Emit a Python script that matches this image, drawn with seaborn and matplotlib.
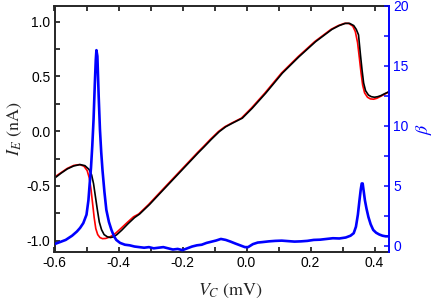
import numpy as np
import pandas as pd
import matplotlib
matplotlib.use("Agg")
import matplotlib.pyplot as plt
from matplotlib.ticker import MultipleLocator
import seaborn as sns

# Emitter current I_E (nA) vs collector bias V_C (mV): black trace
vc_black = [-0.600, -0.580, -0.560, -0.540, -0.520, -0.505, -0.492, -0.484, -0.478, -0.472,
            -0.466, -0.460, -0.453, -0.445, -0.435, -0.425, -0.415, -0.405, -0.390, -0.370,
            -0.350, -0.334, -0.303, -0.270, -0.240, -0.210, -0.180, -0.150, -0.132, -0.110,
            -0.085, -0.065, -0.044, -0.013, 0.018, 0.060, 0.112, 0.164, 0.216, 0.267,
            0.290, 0.309, 0.322, 0.335, 0.343, 0.350, 0.356, 0.361, 0.366, 0.372,
            0.381, 0.390, 0.400, 0.410, 0.420, 0.430, 0.445]
ie_black = [-0.43, -0.385, -0.345, -0.318, -0.305, -0.315, -0.35, -0.40, -0.48, -0.60,
            -0.72, -0.83, -0.90, -0.945, -0.965, -0.972, -0.965, -0.945, -0.905, -0.845,
            -0.79, -0.757, -0.67, -0.567, -0.474, -0.381, -0.288, -0.195, -0.142, -0.075,
            -0.004, 0.04, 0.073, 0.119, 0.21, 0.347, 0.53, 0.68, 0.818, 0.93,
            0.965, 0.985, 0.985, 0.965, 0.93, 0.88, 0.70, 0.56, 0.44, 0.37,
            0.33, 0.315, 0.31, 0.315, 0.325, 0.34, 0.36]

# red trace
vc_red = [-0.600, -0.580, -0.560, -0.540, -0.522, -0.508, -0.498, -0.491, -0.486, -0.481,
          -0.476, -0.471, -0.465, -0.458, -0.450, -0.440, -0.430, -0.420, -0.408, -0.393,
          -0.373, -0.353, -0.337, -0.306, -0.273, -0.243, -0.213, -0.183, -0.153, -0.135,
          -0.113, -0.088, -0.068, -0.047, -0.016, 0.015, 0.057, 0.109, 0.161, 0.213,
          0.264, 0.287, 0.306, 0.319, 0.332, 0.340, 0.347, 0.353, 0.358, 0.363,
          0.369, 0.378, 0.387, 0.397, 0.407, 0.417, 0.430, 0.445]
ie_red = [-0.42, -0.38, -0.34, -0.313, -0.305, -0.32, -0.36, -0.43, -0.53, -0.66,
          -0.79, -0.89, -0.945, -0.972, -0.982, -0.98, -0.97, -0.955, -0.93, -0.89,
          -0.835, -0.782, -0.757, -0.67, -0.567, -0.474, -0.381, -0.288, -0.195, -0.142,
          -0.075, -0.004, 0.04, 0.073, 0.119, 0.21, 0.347, 0.53, 0.68, 0.818,
          0.93, 0.965, 0.985, 0.985, 0.96, 0.91, 0.81, 0.66, 0.53, 0.42,
          0.35, 0.31, 0.295, 0.292, 0.30, 0.315, 0.335, 0.36]

# current gain beta (right axis)
vc_beta = [-0.600, -0.585, -0.565, -0.545, -0.530, -0.520, -0.510, -0.500, -0.494, -0.490,
           -0.486, -0.482, -0.478, -0.474, -0.471, -0.469, -0.466, -0.462, -0.458, -0.454,
           -0.450, -0.444, -0.438, -0.430, -0.422, -0.414, -0.407, -0.395, -0.380, -0.365,
           -0.350, -0.335, -0.320, -0.305, -0.290, -0.275, -0.260, -0.245, -0.230, -0.215,
           -0.200, -0.185, -0.170, -0.155, -0.140, -0.125, -0.110, -0.095, -0.080, -0.065,
           -0.050, -0.035, -0.020, -0.005, 0.005, 0.020, 0.035, 0.050, 0.070, 0.090,
           0.110, 0.130, 0.150, 0.170, 0.190, 0.210, 0.230, 0.250, 0.270, 0.290,
           0.310, 0.325, 0.335, 0.342, 0.348, 0.353, 0.357, 0.360, 0.363, 0.366,
           0.370, 0.375, 0.381, 0.388, 0.396, 0.405, 0.415, 0.425, 0.435, 0.445]
beta = [0.15, 0.3, 0.5, 0.85, 1.2, 1.5, 1.9, 2.6, 3.8, 5.2,
        6.5, 8.3, 10.5, 13.5, 15.5, 16.3, 15.8, 12.5, 9.7, 7.8,
        6.3, 4.5, 3.0, 2.0, 1.33, 0.8, 0.5, 0.25, 0.1, 0.05,
        -0.05, -0.1, -0.15, -0.1, -0.2, -0.15, -0.1, -0.2, -0.3, -0.25,
        -0.35, -0.2, -0.05, 0.05, 0.1, 0.25, 0.35, 0.45, 0.58, 0.5,
        0.36, 0.2, 0.05, -0.1, -0.1, 0.15, 0.28, 0.32, 0.38, 0.42,
        0.44, 0.4, 0.36, 0.38, 0.42, 0.5, 0.52, 0.58, 0.64, 0.62,
        0.7, 0.85, 1.06, 1.6, 2.6, 3.8, 4.7, 5.2, 5.2, 4.6,
        3.8, 3.1, 2.4, 1.8, 1.33, 1.1, 0.95, 0.85, 0.8, 0.8]

df_black = pd.DataFrame({"vc": vc_black, "ie": ie_black})
df_red = pd.DataFrame({"vc": vc_red, "ie": ie_red})
df_beta = pd.DataFrame({"vc": vc_beta, "beta": beta})

sns.set_theme(style="ticks")
plt.rcParams["font.family"] = ["Liberation Sans", "DejaVu Sans"]
plt.rcParams["mathtext.fontset"] = "stix"
plt.rcParams["axes.linewidth"] = 1.4

fig = plt.figure(figsize=(4.36, 3.02), dpi=100)
ax = fig.add_axes([0.125, 0.167, 0.767, 0.814])
ax2 = ax.twinx()

sns.lineplot(data=df_red, x="vc", y="ie", color="#ff0000", lw=1.2, sort=False, ax=ax)
sns.lineplot(data=df_black, x="vc", y="ie", color="black", lw=1.2, sort=False, ax=ax)
sns.lineplot(data=df_beta, x="vc", y="beta", color="#0000ff", lw=1.9, sort=False, ax=ax2)

ax.set_xlim(-0.6, 0.445)
ax.set_ylim(-1.1, 1.146)
ax2.set_ylim(-0.47, 20)

ax.xaxis.set_major_locator(MultipleLocator(0.2))
ax.xaxis.set_minor_locator(MultipleLocator(0.1))
ax.yaxis.set_major_locator(MultipleLocator(0.5))
ax.yaxis.set_minor_locator(MultipleLocator(0.25))
ax2.yaxis.set_major_locator(MultipleLocator(5))
ax2.yaxis.set_minor_locator(MultipleLocator(2.5))

ax.tick_params(which="both", direction="in", top=True, right=False, width=1.1,
               labelsize=10, colors="black", pad=3)
ax.tick_params(which="major", length=3.8)
ax.tick_params(which="minor", length=3.4)
ax2.tick_params(which="both", direction="in", width=1.1, colors="#0000ff",
                labelsize=10, pad=3)
ax2.tick_params(which="major", length=3.8)
ax2.tick_params(which="minor", length=3.4)

for side in ["left", "top", "bottom"]:
    ax2.spines[side].set_visible(False)
ax2.spines["right"].set_color("#0000ff")
ax2.spines["right"].set_linewidth(1.4)
ax.spines["right"].set_visible(False)

ax.set_xticklabels([f"{t:.1f}" for t in ax.get_xticks()])
ax.set_yticklabels([f"{t:.1f}" for t in ax.get_yticks()])

ax.set_xlabel(r"$V_C$ (mV)", fontsize=13, family="STIXGeneral")
ax.xaxis.set_label_coords(0.525, -0.125)
ax.set_ylabel(r"$I_E$ (nA)", fontsize=13, family="STIXGeneral", labelpad=2)
ax2.set_ylabel(r"$\beta$", fontsize=13, color="#0000ff", labelpad=4)

fig.savefig("out.png", dpi=100)
